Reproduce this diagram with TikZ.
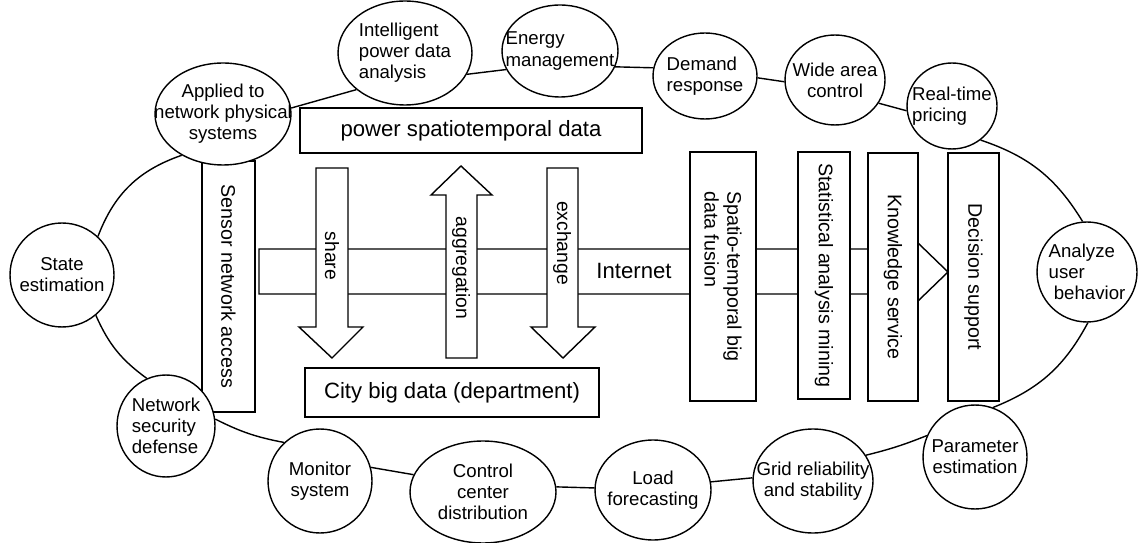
\documentclass[tikz,border=0pt]{standalone}
\usepackage{fontspec}
\setmainfont{Liberation Sans}
\usetikzlibrary{shapes.geometric}

\begin{document}
\begin{tikzpicture}[x=0.02cm,y=-0.02cm,line width=0.8pt,
	bub/.style={shape=ellipse,draw=black,fill=white,inner sep=0pt},
	lbl/.style={align=center,font=\fontsize{10.6}{12}\selectfont},
	box/.style={shape=rectangle,draw=black,fill=white,inner sep=0pt,font=\fontsize{12.6}{14}\selectfont},
	vbox/.style={box,rotate=-90,font=\fontsize{11.2}{13}\selectfont},
	vtxt/.style={rotate=-90,font=\fontsize{11}{13}\selectfont}]
	\useasboundingbox (0,0) rectangle (1138,543);

	% Internet arrow
	\draw[fill=white] (259,249) -- (918,249) -- (918,243) -- (948,272) -- (918,301) -- (918,294) -- (259,294) -- cycle;
	\node[font=\fontsize{12.6}{14}\selectfont] (inet) at (634,271) {Internet};

	% share / aggregation / exchange
	\draw[fill=white] (316,168) -- (348,168) -- (348,327) -- (363,327) -- (332,358) -- (299,327) -- (316,327) -- cycle;
	\draw[fill=white] (446,358) -- (477,358) -- (477,195) -- (492,195) -- (461,166) -- (431,195) -- (446,195) -- cycle;
	\draw[fill=white] (547,168) -- (578,168) -- (578,327) -- (595,327) -- (563,358) -- (531,327) -- (547,327) -- cycle;
	\node[vtxt] (shr) at (332,256) {share};
	\node[vtxt] (agg) at (461,268) {aggregation};
	\node[vtxt] (exc) at (562,243) {exchange};

	% boxes
	\node[box,minimum width=6.84cm,minimum height=0.9cm] (psd) at (471,130.5) {power spatiotemporal data};
	\node[box,minimum width=5.88cm,minimum height=0.98cm] (cbd) at (452,392.5) {City big data (department)};
	\node[vbox,minimum width=5.02cm,minimum height=1.06cm] (sna) at (228.5,286.5) {Sensor network access};
	\node[vbox,minimum width=4.98cm,minimum height=1.32cm,align=left] (stf) at (723,276.5) {Spatio-temporal big\\data fusion};
	\node[vbox,minimum width=4.94cm,minimum height=1.04cm] (sam) at (824,275.5) {Statistical analysis mining};
	\node[vbox,minimum width=4.96cm,minimum height=1.0cm] (ks) at (893,277) {Knowledge service};
	\node[vbox,minimum width=4.96cm,minimum height=1.02cm] (ds) at (973.5,277) {Decision support};

	% ring
	\node[bub,minimum width=2.08cm,minimum height=2.08cm,label={[lbl]center:State\\estimation}] (se) at (62,275) {};
	\node[bub,minimum width=2.72cm,minimum height=2.04cm,label={[lbl]center:Applied to\\network physical\\systems}] (ap) at (223,114) {};
	\node[bub,minimum width=2.68cm,minimum height=2.08cm,label={[lbl,align=left]center:Intelligent\\power data\\analysis}] (ipd) at (405,53) {};
	\node[bub,minimum width=2.32cm,minimum height=1.84cm,label={[lbl,align=left]center:Energy\\management}] (em) at (560,51) {};
	\node[bub,minimum width=2.08cm,minimum height=1.72cm,label={[lbl,align=left]center:Demand\\response}] (dr) at (705,76) {};
	\node[bub,minimum width=2.0cm,minimum height=1.8cm,label={[lbl]center:Wide area\\control}] (wac) at (835,80) {};
	\node[bub,minimum width=1.8cm,minimum height=1.72cm,label={[lbl,align=left]center:Real-time\\pricing}] (rtp) at (952,106) {};
	\node[bub,minimum width=2.0cm,minimum height=2.0cm,label={[lbl,align=left]center:Analyze\\user\\\ behavior}] (aub) at (1087,272) {};
	\node[bub,minimum width=2.08cm,minimum height=2.08cm,label={[lbl]center:Parameter\\estimation}] (pe) at (975,457) {};
	\node[bub,minimum width=2.4cm,minimum height=2.08cm,label={[lbl]center:Grid reliability\\and stability}] (grs) at (813,481) {};
	\node[bub,minimum width=2.32cm,minimum height=2.0cm,label={[lbl]center:Load\\forecasting}] (lf) at (653,490) {};
	\node[bub,minimum width=2.92cm,minimum height=2.04cm,label={[lbl]center:Control\\center\\distribution}] (ccd) at (483,492) {};
	\node[bub,minimum width=2.08cm,minimum height=2.08cm,label={[lbl]center:Monitor\\system}] (ms) at (320,481) {};
	\node[bub,minimum width=1.96cm,minimum height=2.04cm,label={[lbl,align=left]center:Network\\security\\defense}] (nsd) at (166,426) {};

	\path [-] (se.47) edge[bend left=25] (ap.225);
	\path [-] (ap.5) edge (ipd.217);
	\path [-] (ipd.341) edge (em.199);
	\path [-] (em.344) edge (dr.171);
	\path [-] (dr.358) edge (wac.182);
	\path [-] (wac.332) edge (rtp.186);
	\path [-] (rtp.310) edge[bend left=20] (aub.95);
	\path [-] (aub.271) edge[bend left=20] (pe.70);
	\path [-] (pe.156) edge[bend left=4] (grs.26);
	\path [-] (grs.177) edge (lf.8);
	\path [-] (lf.178) edge (ccd.4);
	\path [-] (ccd.166) edge (ms.15);
	\path [-] (ms.133) edge[bend left=8] (nsd.8);
	\path [-] (nsd.112) edge[bend left=15] (se.310);
\end{tikzpicture}
\end{document}
